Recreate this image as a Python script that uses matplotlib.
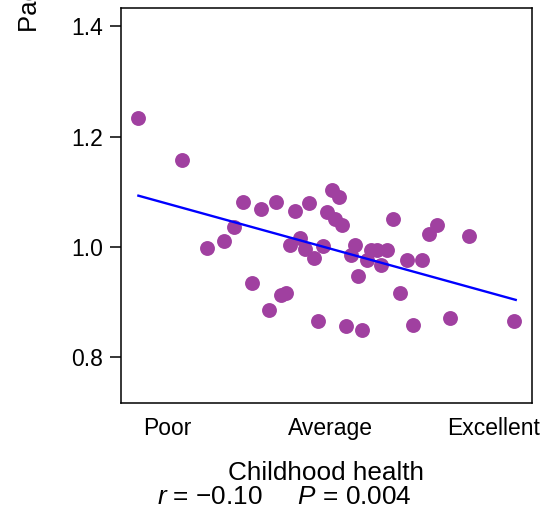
import numpy as np
import matplotlib
matplotlib.use("Agg")
import matplotlib.pyplot as plt

plt.rcParams['font.family'] = ['Liberation Sans', 'DejaVu Sans']
plt.rcParams['mathtext.fontset'] = 'custom'
plt.rcParams['mathtext.rm'] = 'Liberation Sans'
plt.rcParams['mathtext.it'] = 'Liberation Sans:italic'

# childhood health (1 = poor, 2 = average, 3 = excellent) vs pace of aging
health = [0.820, 1.085, 1.462, 1.573, 1.661, 1.777, 1.867, 2.004, 2.047, 1.977,
          2.025, 2.069, 1.407, 1.342, 1.241, 1.810, 1.748, 1.839, 1.896, 1.953,
          2.146, 2.121, 2.219, 2.244, 2.281, 2.346, 2.307, 2.380, 2.465, 2.560,
          2.603, 2.652, 2.849, 2.166, 1.517, 1.693, 1.726, 1.618, 1.924, 2.094,
          2.192, 2.425, 2.501, 2.730, 3.125]
pace = [1.234, 1.157, 1.082, 1.069, 1.081, 1.066, 1.080, 1.103, 1.091, 1.063,
        1.050, 1.040, 1.037, 1.010, 0.999, 1.016, 1.004, 0.997, 0.980, 1.002,
        1.003, 0.986, 0.977, 0.994, 0.994, 0.994, 0.968, 1.050, 0.976, 0.976,
        1.024, 1.040, 1.020, 0.948, 0.934, 0.912, 0.917, 0.885, 0.866, 0.857,
        0.849, 0.916, 0.859, 0.872, 0.866]

fit_x = [0.820, 3.133]
fit_y = [1.093, 0.904]

xticks = [1, 2, 3]
xlabels = ["Poor", "Average", "Excellent"]
yticks = [0.8, 1.0, 1.2, 1.4]

fig = plt.figure(figsize=(5.44, 5.14), dpi=100)
ax = fig.add_axes([0.222, 0.216, 0.756, 0.768])

ax.scatter(health, pace, s=115, color='#A040A0', linewidths=0, zorder=2)
ax.plot(fit_x, fit_y, color='#0000FF', lw=1.7, zorder=3)

ax.set_xlim(0.712, 3.233)
ax.set_ylim(0.717, 1.433)
ax.set_xticks(xticks)
ax.set_xticklabels(xlabels)
ax.set_yticks(yticks)
ax.set_yticklabels(["0.8", "1.0", "1.2", "1.4"])
ax.tick_params(axis='x', length=0, pad=10, labelsize=16.5)
ax.tick_params(axis='y', length=8, width=1.1, pad=5, labelsize=16.5)
for s in ax.spines.values():
    s.set_linewidth(1.1)

ax.set_xlabel("Childhood health", fontsize=18.8, labelpad=15)

fig.text(0.056, 0.938, "Pace of aging", rotation=90, fontsize=18.5,
         ha='center', va='bottom')
fig.text(0.289, 0.033, "$\\it{r}$ = \u22120.10     $\\it{P}$ = 0.004",
         fontsize=18.8, ha='left', va='center')

fig.savefig("out.png", dpi=100)
